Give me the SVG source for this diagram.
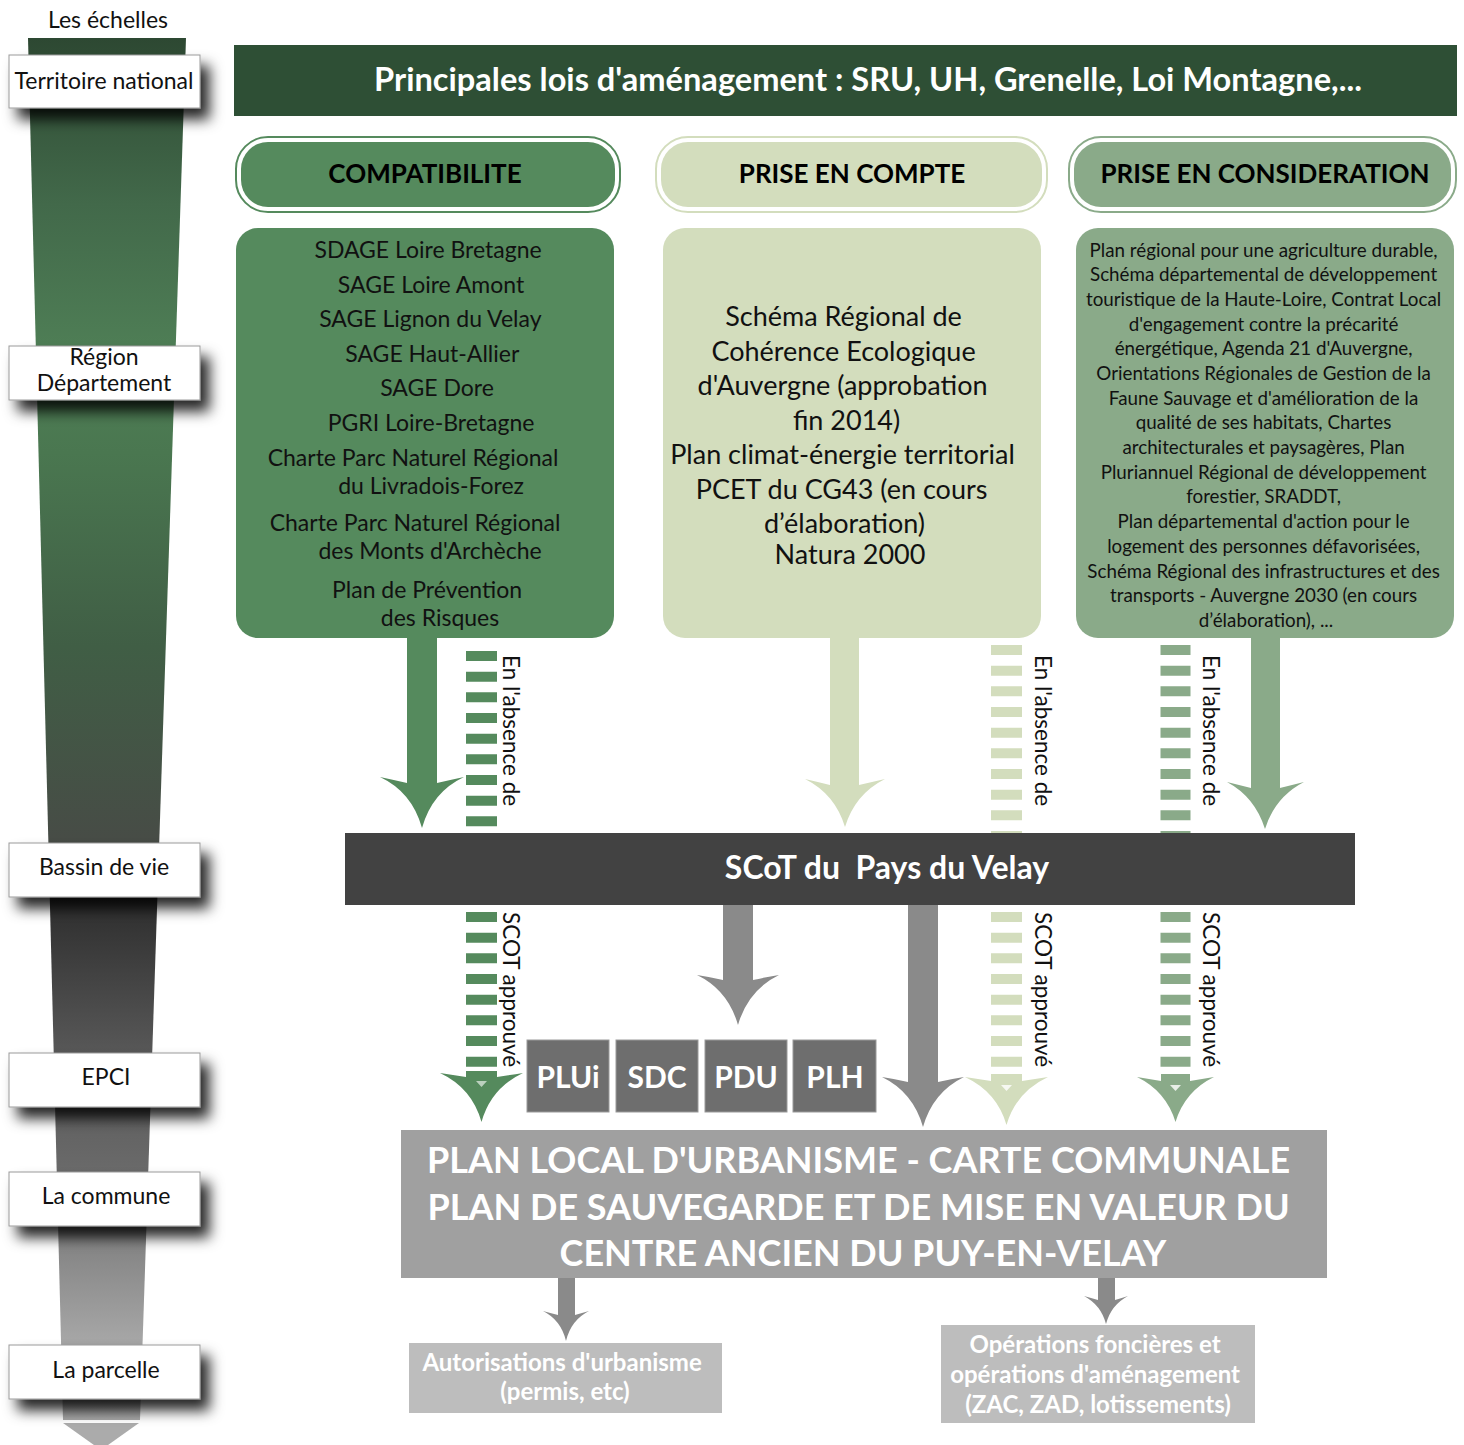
<svg xmlns="http://www.w3.org/2000/svg" width="1464" height="1445" viewBox="0 0 1464 1445">
<defs>
  <linearGradient id="funnelGrad" gradientUnits="userSpaceOnUse" x1="0" y1="38" x2="0" y2="1420">
    <stop offset="0" stop-color="#2d4832"/>
    <stop offset="0.12" stop-color="#42694a"/>
    <stop offset="0.23" stop-color="#4f7f56"/>
    <stop offset="0.30" stop-color="#4a7750"/>
    <stop offset="0.44" stop-color="#405e45"/>
    <stop offset="0.58" stop-color="#474c46"/>
    <stop offset="0.625" stop-color="#2e2e2e"/>
    <stop offset="0.73" stop-color="#565656"/>
    <stop offset="0.82" stop-color="#6a6a6a"/>
    <stop offset="0.94" stop-color="#a5a5a5"/>
    <stop offset="1" stop-color="#a8a8a8"/>
  </linearGradient>
  <filter id="shadow" x="-20%" y="-30%" width="150%" height="190%">
    <feDropShadow dx="9" dy="11" stdDeviation="7" flood-color="#000" flood-opacity="0.85"/>
  </filter>
</defs>
<style>
  .scale { fill:#fff; stroke:#9a9a9a; stroke-width:1; }
  .scaletxt { font-family: Lato, "Liberation Sans", sans-serif; font-size:23px; fill:#111; text-anchor:middle; }
  .hdr { font-family: Lato, "Liberation Sans", sans-serif; font-weight:bold; font-size:26px; fill:#000; text-anchor:middle; }
  .g1 { fill:#558a5d; }
  .g2 { fill:#d3ddbd; }
  .g3 { fill:#8aaa89; }
  .txt22 { font-family: Lato, "Liberation Sans", sans-serif; font-size:23px; fill:#111; text-anchor:middle; }
  .txt26 { font-family: Lato, "Liberation Sans", sans-serif; font-size:27px; fill:#111; text-anchor:middle; }
  .txt17 { font-family: Lato, "Liberation Sans", sans-serif; font-size:18.8px; fill:#111; text-anchor:middle; }
  .vtxt { font-family: Lato, "Liberation Sans", sans-serif; font-size:22.5px; fill:#111; }
  .gray { fill:#8a8a8a; }
  .btxt { font-family: Lato, "Liberation Sans", sans-serif; font-weight:bold; fill:#fff; text-anchor:middle; }
</style>

<rect x="0" y="0" width="1464" height="1445" fill="#fff"/>

<!-- Scale funnel -->
<g id="scale-funnel">
  <text x="108" y="28" class="scaletxt" font-size="22">Les échelles</text>
  <polygon points="28,38 186,38 140,1420 63,1420" fill="url(#funnelGrad)"/>
  <polygon points="63,1423 139,1423 101,1450" fill="#ababab"/>
</g>
<g id="scale-territoire"><rect x="9" y="55" width="191" height="53" class="scale" filter="url(#shadow)"/><text x="104" y="89" class="scaletxt">Territoire national</text></g>
<g id="scale-region"><rect x="9" y="346" width="191" height="54" class="scale" filter="url(#shadow)"/><text x="104" y="365" class="scaletxt" font-size="21.5">Région</text><text x="104" y="391" class="scaletxt" font-size="21.5">Département</text></g>
<g id="scale-bassin"><rect x="9" y="843" width="191" height="54" class="scale" filter="url(#shadow)"/><text x="104" y="875" class="scaletxt">Bassin de vie</text></g>
<g id="scale-epci"><rect x="9" y="1053" width="191" height="54" class="scale" filter="url(#shadow)"/><text x="106" y="1085" class="scaletxt">EPCI</text></g>
<g id="scale-commune"><rect x="9" y="1172" width="191" height="54" class="scale" filter="url(#shadow)"/><text x="106" y="1204" class="scaletxt">La commune</text></g>
<g id="scale-parcelle"><rect x="9" y="1345" width="191" height="54" class="scale" filter="url(#shadow)"/><text x="106" y="1378" class="scaletxt">La parcelle</text></g>

<!-- Header -->
<g id="lois">
  <rect x="234" y="45" width="1223" height="71" fill="#2e4f35"/>
  <text x="868" y="91" class="btxt" font-size="32.6">Principales lois d'aménagement : SRU, UH, Grenelle, Loi Montagne,...</text>
</g>

<!-- Category headers -->
<g id="cat-compatibilite">
  <rect x="236" y="137" width="384" height="75" rx="32" fill="#fff" stroke="#558a5d" stroke-width="2"/>
  <rect x="241" y="142" width="374" height="65" rx="27" class="g1"/>
  <text x="425" y="183" class="hdr">COMPATIBILITE</text>
</g>
<g id="cat-prise-compte">
  <rect x="656" y="137" width="391" height="75" rx="32" fill="#fff" stroke="#d3ddbd" stroke-width="2"/>
  <rect x="661" y="142" width="381" height="65" rx="27" class="g2"/>
  <text x="852" y="183" class="hdr">PRISE EN COMPTE</text>
</g>
<g id="cat-prise-consideration">
  <rect x="1069" y="137" width="387" height="75" rx="32" fill="#fff" stroke="#8aaa89" stroke-width="2"/>
  <rect x="1074" y="142" width="377" height="65" rx="27" class="g3"/>
  <text x="1265" y="183" class="hdr">PRISE EN CONSIDERATION</text>
</g>

<!-- Content boxes -->
<g id="box-compatibilite">
  <rect x="236" y="228" width="378" height="410" rx="22" class="g1"/>
  <text class="txt22">
    <tspan x="431" y="258">SDAGE Loire Bretagne</tspan>
    <tspan x="434" y="293">SAGE Loire Amont</tspan>
    <tspan x="433" y="327">SAGE Lignon du Velay</tspan>
    <tspan x="435" y="362">SAGE Haut-Allier</tspan>
    <tspan x="440" y="396">SAGE Dore</tspan>
    <tspan x="434" y="431">PGRI Loire-Bretagne</tspan>
    <tspan x="416" y="466">Charte Parc Naturel Régional</tspan>
    <tspan x="434" y="494">du Livradois-Forez</tspan>
    <tspan x="418" y="531">Charte Parc Naturel Régional</tspan>
    <tspan x="433" y="559">des Monts d'Archèche</tspan>
    <tspan x="430" y="598">Plan de Prévention</tspan>
    <tspan x="440" y="626">des Risques</tspan>
  </text>
</g>
<g id="box-prise-compte">
  <rect x="663" y="228" width="378" height="410" rx="22" class="g2"/>
  <text class="txt26">
    <tspan x="847" y="326">Schéma Régional de</tspan>
    <tspan x="847" y="361">Cohérence Ecologique</tspan>
    <tspan x="846" y="395">d'Auvergne (approbation</tspan>
    <tspan x="850" y="430">fin 2014)</tspan>
    <tspan x="846" y="464">Plan climat-énergie territorial</tspan>
    <tspan x="845" y="499">PCET du CG43 (en cours</tspan>
    <tspan x="848" y="533">d’élaboration)</tspan>
    <tspan x="850" y="564">Natura 2000</tspan>
  </text>
</g>
<g id="box-prise-consideration">
  <rect x="1076" y="228" width="378" height="410" rx="22" class="g3"/>
  <text class="txt17">
    <tspan x="1266" y="257">Plan régional pour une agriculture durable,</tspan>
    <tspan x="1266" y="281">Schéma départemental de développement</tspan>
    <tspan x="1266" y="306">touristique de la Haute-Loire, Contrat Local</tspan>
    <tspan x="1266" y="331">d'engagement contre la précarité</tspan>
    <tspan x="1266" y="355">énergétique, Agenda 21 d'Auvergne,</tspan>
    <tspan x="1266" y="380">Orientations Régionales de Gestion de la</tspan>
    <tspan x="1266" y="405">Faune Sauvage et d'amélioration de la</tspan>
    <tspan x="1266" y="429">qualité de ses habitats, Chartes</tspan>
    <tspan x="1266" y="454">architecturales et paysagères, Plan</tspan>
    <tspan x="1266" y="479">Pluriannuel Régional de développement</tspan>
    <tspan x="1266" y="503">forestier, SRADDT,</tspan>
    <tspan x="1266" y="528">Plan départemental d'action pour le</tspan>
    <tspan x="1266" y="553">logement des personnes défavorisées,</tspan>
    <tspan x="1266" y="578">Schéma Régional des infrastructures et des</tspan>
    <tspan x="1266" y="602">transports - Auvergne 2030 (en cours</tspan>
    <tspan x="1266" y="627">d’élaboration), ...</tspan>
  </text>
</g>

<!-- Connectors -->
<g id="connectors">
  <!-- solid arrows to SCoT -->
  <path class="g1" d="M407,638 H437 V783 Q450,780 464,777 Q432,792 422,828 Q412,792 380,777 Q394,780 407,783 Z"/>
  <path class="g2" d="M830,638 H859 V785 Q872,782 885,779 Q855,794 845,827 Q835,794 805,779 Q818,782 830,785 Z"/>
  <path class="g3" d="M1251,638 H1280 V788 Q1292,785 1304,782 Q1275,797 1265,829 Q1255,797 1227,782 Q1239,785 1251,788 Z"/>

  <!-- dashed stripes above SCoT -->
  <line x1="481.5" y1="651" x2="481.5" y2="827" stroke="#558a5d" stroke-width="31" stroke-dasharray="10 10.67"/>
  <line x1="1006.5" y1="645" x2="1006.5" y2="833" stroke="#d3ddbd" stroke-width="31" stroke-dasharray="10 10.67"/>
  <line x1="1175.5" y1="645" x2="1175.5" y2="833" stroke="#8aaa89" stroke-width="30" stroke-dasharray="10 10.67"/>
  <text class="vtxt" transform="translate(503,655) rotate(90)">En l'absence de</text>
  <text class="vtxt" transform="translate(1035,655) rotate(90)">En l'absence de</text>
  <text class="vtxt" transform="translate(1203,655) rotate(90)">En l'absence de</text>

  <!-- dashed stripes below SCoT -->
  <line x1="481.5" y1="912" x2="481.5" y2="1068" stroke="#558a5d" stroke-width="31" stroke-dasharray="10 10.67"/>
  <line x1="1006.5" y1="912" x2="1006.5" y2="1068" stroke="#d3ddbd" stroke-width="31" stroke-dasharray="10 10.67"/>
  <line x1="1175.5" y1="912" x2="1175.5" y2="1068" stroke="#8aaa89" stroke-width="30" stroke-dasharray="10 10.67"/>
  <text class="vtxt" transform="translate(503,912) rotate(90)">SCOT approuvé</text>
  <text class="vtxt" transform="translate(1035,912) rotate(90)">SCOT approuvé</text>
  <text class="vtxt" transform="translate(1203,912) rotate(90)">SCOT approuvé</text>

  <!-- dashed arrowheads -->
  <path class="g1" d="M466,1071 H497 V1077 Q510,1075 523,1073 Q491,1088 481.5,1122 Q472,1088 440,1073 Q453,1075 466,1077 Z"/>
  <polygon points="476,1081 487,1081 481.5,1087" fill="#fff" opacity="0.6"/>
  <path class="g2" d="M991,1074 H1022 V1081 Q1035,1079 1048,1077 Q1016,1092 1006.5,1125 Q997,1092 965,1077 Q978,1079 991,1081 Z"/>
  <polygon points="1001,1085 1012,1085 1006.5,1091" fill="#fff" opacity="0.8"/>
  <path class="g3" d="M1161,1074 H1190 V1081 Q1202,1079 1214,1077 Q1185,1091 1175.5,1122 Q1166,1091 1137,1077 Q1149,1079 1161,1081 Z"/>
  <polygon points="1170,1085 1181,1085 1175.5,1091" fill="#fff" opacity="0.8"/>

  <!-- gray arrows from SCoT -->
  <path class="gray" d="M723,905 H753 V980 Q766,977 779,975 Q748,990 738,1025 Q728,990 697,975 Q710,977 723,980 Z"/>
  <path class="gray" d="M908,905 H938 V1082 Q951,1079 964,1077 Q933,1092 923,1127 Q913,1092 882,1077 Q895,1079 908,1082 Z"/>

  <!-- gray arrows from PLU -->
  <path class="gray" d="M558,1278 H575 V1315 Q582,1313 589,1311 Q571,1320 566,1341 Q561,1320 543,1311 Q550,1313 558,1315 Z"/>
  <path class="gray" d="M1098,1278 H1115 V1300 Q1122,1298 1128,1296 Q1111,1305 1106,1324 Q1101,1305 1084,1296 Q1091,1298 1098,1300 Z"/>
</g>

<!-- SCoT bar -->
<g id="scot">
  <rect x="345" y="833" width="1010" height="72" fill="#424242"/>
  <text x="887" y="879" class="btxt" font-size="32">SCoT du&#160; Pays du Velay</text>
</g>

<!-- Intercommunal documents -->
<g id="doc-plui"><rect x="527" y="1040" width="82" height="72" fill="#6e6e6e" stroke="#9a9a9a" stroke-width="1"/><text x="568" y="1088" class="btxt" font-size="30">PLUi</text></g>
<g id="doc-sdc"><rect x="616" y="1040" width="82" height="72" fill="#6e6e6e" stroke="#9a9a9a" stroke-width="1"/><text x="657" y="1088" class="btxt" font-size="30">SDC</text></g>
<g id="doc-pdu"><rect x="705" y="1040" width="82" height="72" fill="#6e6e6e" stroke="#9a9a9a" stroke-width="1"/><text x="746" y="1088" class="btxt" font-size="30">PDU</text></g>
<g id="doc-plh"><rect x="793" y="1040" width="83" height="72" fill="#6e6e6e" stroke="#9a9a9a" stroke-width="1"/><text x="835" y="1088" class="btxt" font-size="30">PLH</text></g>

<!-- PLU box -->
<g id="plu">
  <rect x="401" y="1130" width="926" height="148" fill="#a0a0a0"/>
  <text class="btxt" font-size="36">
    <tspan x="863" y="1173">PLAN LOCAL D'URBANISME - CARTE COMMUNALE</tspan>
    <tspan x="863" y="1220">PLAN DE SAUVEGARDE ET DE MISE EN VALEUR DU</tspan>
    <tspan x="863" y="1266">CENTRE ANCIEN DU PUY-EN-VELAY</tspan>
  </text>
</g>

<!-- Bottom boxes -->
<g id="autorisations">
  <rect x="409" y="1343" width="313" height="70" fill="#bdbdbd"/>
  <text class="btxt" font-size="24">
    <tspan x="565" y="1371">Autorisations d'urbanisme</tspan>
    <tspan x="565" y="1400">(permis, etc)</tspan>
  </text>
</g>
<g id="operations">
  <rect x="941" y="1325" width="314" height="98" fill="#bdbdbd"/>
  <text class="btxt" font-size="24">
    <tspan x="1098" y="1353">Opérations foncières et</tspan>
    <tspan x="1098" y="1383">opérations d'aménagement</tspan>
    <tspan x="1098" y="1413">(ZAC, ZAD, lotissements)</tspan>
  </text>
</g>
</svg>
